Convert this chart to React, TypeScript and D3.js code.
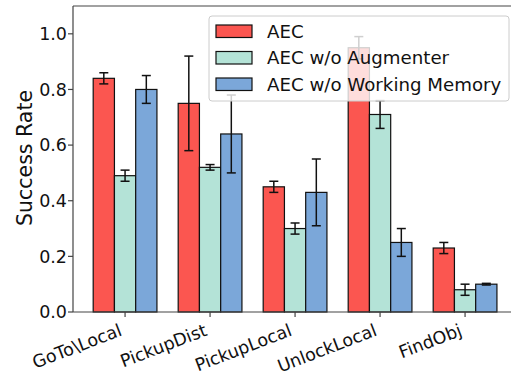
import * as d3 from "d3";
import React from "react";

const width = 511;
const height = 376;
const margin = { top: 6, left: 73, bottom: 312 };

const tasks = ["GoTo\\Local", "PickupDist", "PickupLocal", "UnlockLocal", "FindObj"];
const seriesNames = ["AEC", "AEC w/o Augmenter", "AEC w/o Working Memory"];
const colors = ["#fb5650", "#b4e3d7", "#7ba7d9"];

const aecMean = [0.84, 0.75, 0.45, 0.95, 0.23];
const aecErr = [0.02, 0.17, 0.02, 0.04, 0.02];
const noAugMean = [0.49, 0.52, 0.3, 0.71, 0.08];
const noAugErr = [0.02, 0.01, 0.02, 0.05, 0.02];
const noWmMean = [0.8, 0.64, 0.43, 0.25, 0.1];
const noWmErr = [0.05, 0.14, 0.12, 0.05, 0.003];

const yTicks = [0, 0.2, 0.4, 0.6, 0.8, 1.0];

const means = [aecMean, noAugMean, noWmMean];
const errs = [aecErr, noAugErr, noWmErr];

const barW = 0.25;

const App = () => {
  // 85px per group, axis clipped on the right like the original
  const x = d3.scaleLinear().domain([-0.6125, 4.6125]).range([margin.left, margin.left + 5.225 * 85]);
  const y = d3.scaleLinear().domain([0, 1.1]).range([margin.bottom, margin.top]);
  const font = "DejaVu Sans, sans-serif";

  return (
    <svg width={width} height={height} style={{ position: "absolute", left: 0, top: 0 }} fontFamily={font}>
      <rect width={width} height={height} fill="white" />
      {/* bars */}
      {means.map((m, s) =>
        m.map((v, i) => {
          const cx = i + (s - 1) * barW;
          return (
            <rect
              key={`b${s}-${i}`}
              x={x(cx - barW / 2)}
              y={y(v)}
              width={x(cx + barW / 2) - x(cx - barW / 2)}
              height={y(0) - y(v)}
              fill={colors[s]}
              stroke="#111"
              strokeWidth={1.2}
            />
          );
        })
      )}
      {/* error bars */}
      {means.map((m, s) =>
        m.map((v, i) => {
          const cx = x(i + (s - 1) * barW);
          const e = errs[s][i];
          return (
            <g key={`e${s}-${i}`} stroke="#111" strokeWidth={1.5}>
              <line x1={cx} x2={cx} y1={y(v - e)} y2={y(v + e)} />
              <line x1={cx - 4.5} x2={cx + 4.5} y1={y(v - e)} y2={y(v - e)} />
              <line x1={cx - 4.5} x2={cx + 4.5} y1={y(v + e)} y2={y(v + e)} />
            </g>
          );
        })
      )}
      {/* spines */}
      <line x1={margin.left} x2={margin.left} y1={margin.top} y2={margin.bottom} stroke="#444" strokeWidth={1.2} />
      <line x1={margin.left} x2={width} y1={margin.bottom} y2={margin.bottom} stroke="#444" strokeWidth={1.2} />
      <line x1={margin.left} x2={width} y1={margin.top} y2={margin.top} stroke="#444" strokeWidth={1.2} />
      {/* y ticks */}
      {yTicks.map((t) => (
        <g key={`yt${t}`}>
          <line x1={margin.left - 5} x2={margin.left} y1={y(t)} y2={y(t)} stroke="#444" strokeWidth={1.2} />
          <text x={margin.left - 6} y={y(t)} dy="0.36em" textAnchor="end" fontSize={17.5} fill="#111">
            {t.toFixed(1)}
          </text>
        </g>
      ))}
      {/* x ticks */}
      {tasks.map((t, i) => (
        <g key={`xt${i}`}>
          <line x1={x(i)} x2={x(i)} y1={margin.bottom} y2={margin.bottom + 5} stroke="#444" strokeWidth={1.2} />
          <text
            transform={`translate(${x(i) - 2},${margin.bottom + 23}) rotate(-21)`}
            textAnchor="end"
            fontSize={17.5}
            fill="#111"
          >
            {t}
          </text>
        </g>
      ))}
      <text transform={`translate(32,158) rotate(-90)`} textAnchor="middle" fontSize={20.5} fill="#111">
        Success Rate
      </text>
      {/* legend */}
      <rect x={209} y={16} width={300} height={85} rx={3} fill="white" fillOpacity={0.8} stroke="#ccc" strokeWidth={1} />
      {seriesNames.map((n, s) => (
        <g key={`lg${s}`}>
          <rect x={216} y={25 + s * 26.5} width={36} height={12.5} fill={colors[s]} stroke="#111" strokeWidth={1.2} />
          <text x={267} y={31 + s * 26.5} dy="0.36em" fontSize={18.2} fill="#111">
            {n}
          </text>
        </g>
      ))}
    </svg>
  );
};

export default App;
